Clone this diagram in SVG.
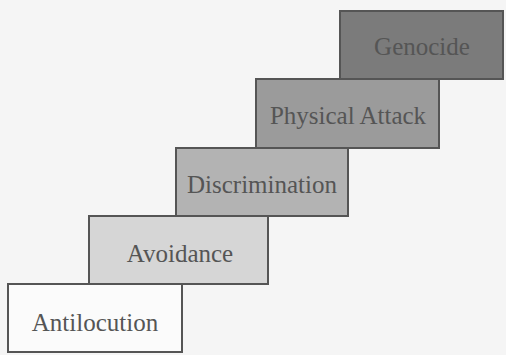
<svg xmlns="http://www.w3.org/2000/svg" width="506" height="355" viewBox="0 0 506 355">
<style>
.box{stroke:#555;stroke-width:2}
.lbl{font-family:"Liberation Serif",serif;font-size:25px;fill:#555;text-anchor:middle}
</style>
<rect width="506" height="355" fill="#f5f5f5"/>
<g id="genocide"><rect class="box" x="340" y="11" width="163" height="68" fill="#7b7b7b"/><text class="lbl" x="422" y="55" fill="#5e5e5e">Genocide</text></g>
<g id="physical-attack"><rect class="box" x="256" y="79" width="183" height="69" fill="#9b9b9b"/><text class="lbl" x="348" y="124">Physical Attack</text></g>
<g id="discrimination"><rect class="box" x="176" y="148" width="172" height="68" fill="#b3b3b3"/><text class="lbl" x="262" y="193">Discrimination</text></g>
<g id="avoidance"><rect class="box" x="89" y="216" width="179" height="68" fill="#d6d6d6"/><text class="lbl" x="180" y="262">Avoidance</text></g>
<g id="antilocution"><rect class="box" x="8" y="284" width="174" height="68" fill="#fbfbfb"/><text class="lbl" x="95" y="331">Antilocution</text></g>
<g id="connectors"></g>
</svg>
